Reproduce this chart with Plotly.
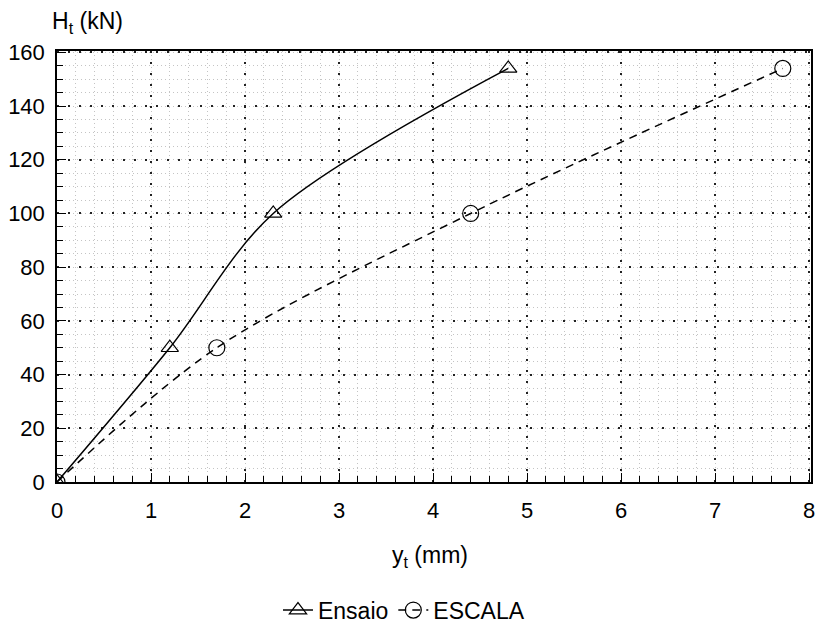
import plotly.graph_objects as go

# Data
ensaio_x = [0, 1.2, 2.3, 4.8]
ensaio_y = [0, 50, 100, 154]
escala_x = [0, 1.7, 4.4, 7.72]
escala_y = [0, 50, 100, 154]

x_ticks = [0, 1, 2, 3, 4, 5, 6, 7, 8]
y_ticks = [0, 20, 40, 60, 80, 100, 120, 140, 160]

FONT = "Liberation Sans"
FS = 22
FT = 23

fig = go.Figure()
fig.add_trace(go.Scatter(
    x=ensaio_x, y=ensaio_y, name="Ensaio", mode="lines+markers",
    line=dict(color="black", width=1.5, shape="spline", smoothing=0.9),
    marker=dict(symbol="triangle-up-open", size=15, color="black", line=dict(width=1.2)),
))
fig.add_trace(go.Scatter(
    x=escala_x, y=escala_y, name="ESCALA", mode="lines+markers",
    line=dict(color="black", width=1.5, dash="8px,6px", shape="spline", smoothing=0.9),
    marker=dict(symbol="circle-open", size=16, color="black", line=dict(width=1.2)),
))

axis_common = dict(
    showline=True, linecolor="black", linewidth=1.5, mirror=True,
    ticks="inside", ticklen=9, tickcolor="black", tickwidth=1.2,
    showgrid=True, gridcolor="#222", griddash="2px,9px", gridwidth=1.5,
    zeroline=False, automargin=False, ticklabeloverflow="allow",
    tickfont=dict(family=FONT, size=FS, color="black"),
)

fig.update_xaxes(
    range=[0, 8.02], tickvals=x_ticks, ticklabelstandoff=8,
    minor=dict(dtick=0.2, ticks="inside", ticklen=6, tickcolor="black",
               showgrid=True, gridcolor="#c4c4c4", griddash="1px,3px", gridwidth=1),
    **axis_common,
)
fig.update_yaxes(
    range=[0, 160.5], tickvals=y_ticks, ticklabelstandoff=6,
    minor=dict(dtick=5, ticks="inside", ticklen=6, tickcolor="black",
               showgrid=True, gridcolor="#c4c4c4", griddash="1px,3px", gridwidth=1),
    **axis_common,
)

fig.update_layout(
    width=820, height=629,
    margin=dict(l=57, r=9, t=51, b=147, autoexpand=False),
    plot_bgcolor="white", paper_bgcolor="white",
    font=dict(family=FONT, color="black", size=FS),
    showlegend=True,
    legend=dict(orientation="h", xref="container", yref="container",
                x=0.339, xanchor="left", y=0.030, yanchor="middle",
                font=dict(family=FONT, size=FT), itemwidth=30, tracegroupgap=0,
                bgcolor="rgba(0,0,0,0)"),
    annotations=[
        dict(text="H<sub>t</sub> (kN)", xref="paper", yref="paper", x=-0.009, y=1.067,
             xanchor="left", yanchor="middle", showarrow=False,
             font=dict(family=FONT, size=FT, color="black")),
        dict(text="y<sub>t</sub> (mm)", xref="paper", yref="paper", x=0.495, y=-0.174,
             xanchor="center", yanchor="middle", showarrow=False,
             font=dict(family=FONT, size=FT, color="black")),
    ],
)

fig.write_html("out.html", config={"displayModeBar": False},
               post_script="document.body.style.margin='0';document.body.style.overflow='hidden';")
